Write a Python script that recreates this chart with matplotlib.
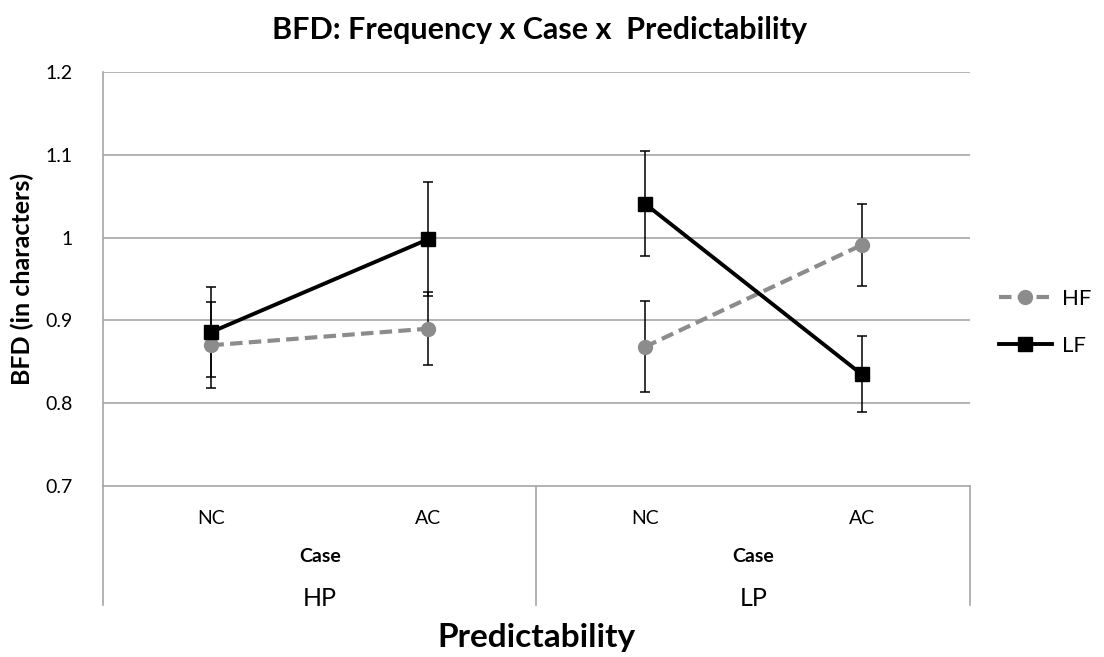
import matplotlib.pyplot as plt
from matplotlib.transforms import blended_transform_factory

plt.rcParams['font.family'] = ['Lato', 'DejaVu Sans']

cases = ['NC', 'AC', 'NC', 'AC']
groups = ['HP', 'LP']
hf = [0.870, 0.890, 0.868, 0.991]
hf_err = [0.052, 0.044, 0.055, 0.050]
lf = [0.886, 0.998, 1.041, 0.835]
lf_err = [0.054, 0.069, 0.063, 0.046]
yticks = [0.7, 0.8, 0.9, 1.0, 1.1, 1.2]
ytick_labels = ['0.7', '0.8', '0.9', '1', '1.1', '1.2']

fig = plt.figure(figsize=(11.04, 6.57), dpi=100)
ax = fig.add_axes([0.0933, 0.2603, 0.7853, 0.6301])

x = list(range(len(cases)))
grid_c = '#a6a6a6'

hf_style = dict(color='#8c8c8c', ls=(0, (3, 1.5)), lw=3, marker='o', ms=10)
lf_style = dict(color='black', ls='-', lw=2.8, marker='s', ms=10)

ax.errorbar(x, hf, yerr=hf_err, fmt='none', ecolor='black', elinewidth=1.1,
            capsize=3.6, capthick=1.1, zorder=2)
ax.errorbar(x, lf, yerr=lf_err, fmt='none', ecolor='black', elinewidth=1.1,
            capsize=3.6, capthick=1.1, zorder=2)
# lines connect only within each predictability group
for g in range(len(groups)):
    sl = slice(2 * g, 2 * g + 2)
    ax.plot(x[sl], hf[sl], zorder=3, label='HF' if g == 0 else None, **hf_style)
    ax.plot(x[sl], lf[sl], zorder=4, label='LF' if g == 0 else None, **lf_style)

ax.set_xlim(-0.5, 3.5)
ax.set_ylim(0.7, 1.2)
ax.set_yticks(yticks)
ax.set_yticklabels(ytick_labels, fontsize=14)
ax.tick_params(axis='y', length=0, pad=22)
ax.set_xticks([])
for y in yticks[1:]:
    ax.axhline(y, color=grid_c, lw=1.2, zorder=1)
for s in ['top', 'right']:
    ax.spines[s].set_visible(False)
ax.spines['left'].set_color(grid_c)
ax.spines['bottom'].set_color(grid_c)
ax.spines['left'].set_linewidth(1.2)
ax.spines['bottom'].set_linewidth(1.2)

# multi-level category axis
tr = blended_transform_factory(ax.transData, fig.transFigure)
for xi, lab in zip(x, cases):
    ax.text(xi, 1 - 519 / 657, lab, transform=tr, ha='center', va='center', fontsize=14)
for g, gi in enumerate(groups):
    cx = 2 * g + 0.5
    ax.text(cx, 1 - 557 / 657, 'Case', transform=tr, ha='center', va='center',
            fontsize=14, fontweight='bold')
    ax.text(cx, 1 - 598 / 657, gi, transform=tr, ha='center', va='center', fontsize=18)
for xv in [-0.5, 1.5, 3.5]:
    ax.plot([xv, xv], [1 - 486 / 657, 1 - 605 / 657], transform=tr, color=grid_c,
            lw=1.2, clip_on=False)

fig.text(0.486, 1 - 638 / 657, 'Predictability', ha='center', va='center',
         fontsize=24, fontweight='bold')
fig.text(0.489, 1 - 30 / 657, 'BFD: Frequency x Case x  Predictability', ha='center',
         va='center', fontsize=22, fontweight='bold')
ax.set_ylabel('BFD (in characters)', fontsize=18, fontweight='bold', labelpad=8)

ax.legend(loc='center left', bbox_to_anchor=(1.01, 0.395), frameon=False, fontsize=16,
          handlelength=2.4, labelspacing=1.2, handletextpad=0.45)

fig.savefig('out.png', dpi=100)
